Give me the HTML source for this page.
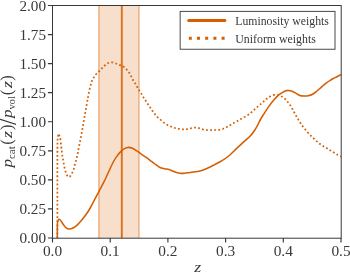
<!DOCTYPE html><html><head><meta charset="utf-8"><title>plot</title><style>html,body{margin:0;padding:0;background:#fff}svg{display:block}text{font-family:"Liberation Serif",serif;fill:#383838}</style></head><body>
<svg width="350" height="273" viewBox="0 0 350 273">
<rect width="350" height="273" fill="#fff"/>
<rect x="98.66" y="5.50" width="40.39" height="232.50" fill="#d55e00" fill-opacity="0.2"/>
<path d="M98.90 5.50V238.00M139.00 5.50V238.00" stroke="#d55e00" stroke-opacity="0.36" stroke-width="1.7" fill="none"/>
<path d="M121.80 5.50V238.00" stroke="#d55e00" stroke-width="1.9" stroke-opacity="0.85" fill="none"/>
<clipPath id="c"><rect x="52.50" y="5.50" width="288.50" height="232.50"/></clipPath>
<g clip-path="url(#c)" fill="none" stroke="#d55e00" stroke-width="1.55" stroke-linejoin="round">
<path d="M57.30 238.00C57.31 236.50 57.32 231.58 57.35 229.00C57.38 226.42 57.36 224.00 57.50 222.50C57.64 221.00 57.93 220.53 58.20 220.00C58.47 219.47 58.77 219.30 59.10 219.30C59.43 219.30 59.80 219.60 60.20 220.00C60.60 220.40 60.87 220.78 61.50 221.70C62.13 222.62 63.17 224.42 64.00 225.50C64.83 226.58 65.63 227.62 66.50 228.20C67.37 228.78 68.20 228.98 69.20 229.00C70.20 229.02 71.13 229.00 72.50 228.30C73.87 227.60 75.82 226.22 77.40 224.80C78.98 223.38 80.47 221.63 82.00 219.80C83.53 217.97 85.18 215.85 86.60 213.80C88.02 211.75 89.28 209.63 90.50 207.50C91.72 205.37 92.80 203.12 93.90 201.00C95.00 198.88 96.18 196.53 97.10 194.80C98.02 193.07 98.20 192.87 99.40 190.60C100.60 188.33 102.70 184.47 104.30 181.20C105.90 177.93 107.42 174.37 109.00 171.00C110.58 167.63 112.38 163.58 113.80 161.00C115.22 158.42 116.30 157.10 117.50 155.50C118.70 153.90 119.83 152.55 121.00 151.40C122.17 150.25 123.32 149.27 124.50 148.60C125.68 147.93 126.77 147.45 128.10 147.40C129.43 147.35 130.92 147.63 132.50 148.30C134.08 148.97 135.77 150.18 137.60 151.40C139.43 152.62 141.52 154.20 143.50 155.60C145.48 157.00 147.62 158.40 149.50 159.80C151.38 161.20 153.13 162.77 154.80 164.00C156.47 165.23 157.92 166.42 159.50 167.20C161.08 167.98 162.72 168.32 164.30 168.70C165.88 169.08 167.42 169.02 169.00 169.50C170.58 169.98 172.00 170.97 173.80 171.60C175.60 172.23 177.82 173.05 179.80 173.30C181.78 173.55 183.52 173.30 185.70 173.10C187.88 172.90 190.52 172.47 192.90 172.10C195.28 171.73 197.60 171.55 200.00 170.90C202.40 170.25 204.85 169.25 207.30 168.20C209.75 167.15 212.25 165.85 214.70 164.60C217.15 163.35 219.57 162.22 222.00 160.70C224.43 159.18 226.85 157.55 229.30 155.50C231.75 153.45 234.25 150.72 236.70 148.40C239.15 146.08 242.37 143.10 244.00 141.60C245.63 140.10 245.50 140.30 246.50 139.40C247.50 138.50 248.87 137.38 250.00 136.20C251.13 135.02 252.13 133.93 253.30 132.30C254.47 130.67 255.77 128.62 257.00 126.40C258.23 124.18 259.48 121.18 260.70 119.00C261.92 116.82 262.97 115.37 264.30 113.30C265.63 111.23 267.12 108.80 268.70 106.60C270.28 104.40 272.22 101.97 273.80 100.10C275.38 98.23 276.73 96.70 278.20 95.40C279.67 94.10 281.30 93.07 282.60 92.30C283.90 91.53 285.03 91.12 286.00 90.80C286.97 90.48 287.50 90.37 288.40 90.40C289.30 90.43 290.17 90.55 291.40 91.00C292.63 91.45 294.40 92.37 295.80 93.10C297.20 93.83 298.47 94.92 299.80 95.40C301.13 95.88 302.40 95.93 303.80 96.00C305.20 96.07 306.73 96.08 308.20 95.80C309.67 95.52 311.13 95.10 312.60 94.30C314.07 93.50 315.53 92.20 317.00 91.00C318.47 89.80 319.93 88.37 321.40 87.10C322.87 85.83 324.33 84.53 325.80 83.40C327.27 82.27 328.73 81.22 330.20 80.30C331.67 79.38 332.80 78.85 334.60 77.90C336.40 76.95 339.93 75.15 341.00 74.60" stroke-linecap="round"/>
<path d="M57.40 238.00C57.40 231.67 57.40 213.00 57.40 200.00C57.40 187.00 57.38 169.67 57.40 160.00C57.42 150.33 57.42 145.92 57.50 142.00C57.58 138.08 57.70 137.70 57.90 136.50C58.10 135.30 58.42 134.88 58.70 134.80" stroke-width="1.75" stroke-dasharray="1.75 2.32" stroke-dashoffset="0.25"/>
<path d="M58.70 134.80C58.98 134.72 59.30 135.17 59.60 136.00C59.90 136.83 60.23 138.05 60.50 139.80C60.77 141.55 60.98 144.58 61.20 146.50C61.42 148.42 61.60 149.75 61.80 151.30C62.00 152.85 62.18 154.42 62.40 155.80C62.62 157.18 62.88 158.32 63.10 159.60C63.32 160.88 63.47 162.15 63.70 163.50C63.93 164.85 64.18 166.32 64.50 167.70C64.82 169.08 65.17 170.52 65.60 171.80C66.03 173.08 66.60 174.60 67.10 175.40C67.60 176.20 68.10 176.45 68.60 176.60" stroke-width="1.75" stroke-dasharray="1.75 2.32" stroke-dashoffset="3.97"/>
<path d="M68.60 176.60C69.10 176.75 69.52 176.88 70.10 176.30C70.68 175.72 71.50 174.28 72.10 173.10C72.70 171.92 73.27 170.53 73.70 169.20C74.13 167.87 74.33 166.43 74.70 165.10C75.07 163.77 75.53 162.53 75.90 161.20C76.27 159.87 76.58 158.43 76.90 157.10C77.22 155.77 77.53 154.55 77.80 153.20C78.07 151.85 78.12 150.98 78.50 149.00C78.88 147.02 79.57 143.97 80.10 141.30C80.63 138.63 81.18 135.80 81.70 133.00C82.22 130.20 82.73 127.17 83.20 124.50C83.67 121.83 84.05 119.57 84.50 117.00C84.95 114.43 85.42 111.82 85.90 109.10C86.38 106.38 87.03 102.78 87.40 100.70C87.77 98.62 87.78 98.30 88.10 96.60" stroke-width="1.75" stroke-dasharray="1.75 2.32" stroke-dashoffset="3.14"/>
<path d="M88.10 96.60C88.42 94.90 88.85 92.48 89.30 90.50C89.75 88.52 90.37 86.27 90.80 84.70C91.23 83.13 91.42 82.28 91.90 81.10C92.38 79.92 93.00 78.75 93.70 77.60C94.40 76.45 95.18 75.27 96.10 74.20C97.02 73.13 98.23 72.17 99.20 71.20C100.17 70.23 100.95 69.35 101.90 68.40C102.85 67.45 103.83 66.40 104.90 65.50C105.97 64.60 107.08 63.52 108.30 63.00C109.52 62.48 110.93 62.32 112.20 62.40" stroke-width="1.75" stroke-dasharray="1.75 2.32" stroke-dashoffset="1.08"/>
<path d="M112.20 62.40C113.47 62.48 114.62 63.05 115.90 63.50C117.18 63.95 118.62 64.57 119.90 65.10C121.18 65.63 122.50 66.00 123.60 66.70C124.70 67.40 125.58 68.32 126.50 69.30C127.42 70.28 128.33 71.45 129.10 72.60C129.87 73.75 130.45 74.97 131.10 76.20C131.75 77.43 132.33 78.82 133.00 80.00C133.67 81.18 134.42 82.17 135.10 83.30C135.78 84.43 136.42 85.62 137.10 86.80C137.78 87.98 138.48 89.22 139.20 90.40C139.92 91.58 140.67 92.70 141.40 93.90C142.13 95.10 142.87 96.43 143.60 97.60C144.33 98.77 145.07 99.78 145.80 100.90C146.53 102.02 147.27 103.18 148.00 104.30C148.73 105.42 149.43 106.47 150.20 107.60C150.97 108.73 151.78 109.97 152.60 111.10C153.42 112.23 154.22 113.35 155.10 114.40C155.98 115.45 156.92 116.45 157.90 117.40C158.88 118.35 159.95 119.18 161.00 120.10" stroke-width="1.75" stroke-dasharray="1.75 2.32" stroke-dashoffset="0.71"/>
<path d="M161.00 120.10C162.05 121.02 163.10 122.07 164.20 122.90C165.30 123.73 166.42 124.47 167.60 125.10C168.78 125.73 170.08 126.22 171.30 126.70C172.52 127.18 173.67 127.65 174.90 128.00C176.13 128.35 177.38 128.57 178.70 128.80C180.02 129.03 181.45 129.33 182.80 129.40C184.15 129.47 185.47 129.38 186.80 129.20C188.13 129.02 189.45 128.55 190.80 128.30C192.15 128.05 193.55 127.72 194.90 127.70C196.25 127.68 197.60 127.93 198.90 128.20C200.20 128.47 201.33 129.00 202.70 129.30C204.07 129.60 205.70 129.88 207.10 130.00" stroke-width="1.75" stroke-dasharray="1.75 2.32" stroke-dashoffset="1.00"/>
<path d="M207.10 130.00C208.50 130.12 209.75 130.00 211.10 130.00C212.45 130.00 213.85 130.03 215.20 130.00C216.55 129.97 217.87 130.02 219.20 129.80C220.53 129.58 221.92 129.17 223.20 128.70C224.48 128.23 225.70 127.62 226.90 127.00C228.10 126.38 229.27 125.68 230.40 125.00C231.53 124.32 232.52 123.58 233.70 122.90C234.88 122.22 236.28 121.57 237.50 120.90C238.72 120.23 239.82 119.57 241.00 118.90C242.18 118.23 243.42 117.57 244.60 116.90" stroke-width="1.75" stroke-dasharray="1.75 2.32" stroke-dashoffset="0.93"/>
<path d="M244.60 116.90C245.78 116.23 246.97 115.67 248.10 114.90C249.23 114.13 250.35 113.17 251.40 112.30C252.45 111.43 253.38 110.62 254.40 109.70C255.42 108.78 256.47 107.73 257.50 106.80C258.53 105.87 259.57 105.00 260.60 104.10C261.63 103.20 262.67 102.28 263.70 101.40C264.73 100.52 265.73 99.63 266.80 98.80C267.87 97.97 268.92 97.07 270.10 96.40C271.28 95.73 272.58 95.03 273.90 94.80" stroke-width="1.75" stroke-dasharray="1.75 2.32" stroke-dashoffset="0.73"/>
<path d="M273.90 94.80C275.22 94.57 276.68 94.70 278.00 95.00C279.32 95.30 280.62 95.93 281.80 96.60C282.98 97.27 284.12 98.10 285.10 99.00C286.08 99.90 286.85 100.95 287.70 102.00C288.55 103.05 289.42 104.13 290.20 105.30C290.98 106.47 291.72 107.80 292.40 109.00C293.08 110.20 293.65 111.32 294.30 112.50C294.95 113.68 295.63 114.92 296.30 116.10C296.97 117.28 297.62 118.47 298.30 119.60C298.98 120.73 299.70 121.83 300.40 122.90C301.10 123.97 301.68 124.90 302.50 126.00C303.32 127.10 304.40 128.40 305.30 129.50C306.20 130.60 307.00 131.58 307.90 132.60" stroke-width="1.75" stroke-dasharray="1.75 2.32" stroke-dashoffset="0.72"/>
<path d="M307.90 132.60C308.80 133.62 309.73 134.62 310.70 135.60C311.67 136.58 312.70 137.55 313.70 138.50C314.70 139.45 315.65 140.38 316.70 141.30C317.75 142.22 318.88 143.18 320.00 144.00C321.12 144.82 322.25 145.50 323.40 146.20C324.55 146.90 325.75 147.50 326.90 148.20C328.05 148.90 329.13 149.67 330.30 150.40C331.47 151.13 332.70 151.87 333.90 152.60C335.10 153.33 336.32 154.13 337.50 154.80C338.68 155.47 340.42 156.30 341.00 156.60" stroke-width="1.75" stroke-dasharray="1.75 2.32" stroke-dashoffset="0.58"/>
</g>
<rect x="52.50" y="5.50" width="288.70" height="232.70" fill="none" stroke="#383838" stroke-width="1.0"/>
<path d="M52.50 238.00v4.6M110.20 238.00v4.6M167.90 238.00v4.6M225.60 238.00v4.6M283.30 238.00v4.6M341.00 238.00v4.6M52.50 238.00h-4.6M52.50 208.94h-4.6M52.50 179.88h-4.6M52.50 150.81h-4.6M52.50 121.75h-4.6M52.50 92.69h-4.6M52.50 63.62h-4.6M52.50 34.56h-4.6M52.50 5.50h-4.6" stroke="#383838" stroke-width="1.15" fill="none"/>
<text x="52.50" y="256.0" font-size="15.5" text-anchor="middle" textLength="19.2" lengthAdjust="spacingAndGlyphs">0.0</text>
<text x="110.20" y="256.0" font-size="15.5" text-anchor="middle" textLength="19.2" lengthAdjust="spacingAndGlyphs">0.1</text>
<text x="167.90" y="256.0" font-size="15.5" text-anchor="middle" textLength="19.2" lengthAdjust="spacingAndGlyphs">0.2</text>
<text x="225.60" y="256.0" font-size="15.5" text-anchor="middle" textLength="19.2" lengthAdjust="spacingAndGlyphs">0.3</text>
<text x="283.30" y="256.0" font-size="15.5" text-anchor="middle" textLength="19.2" lengthAdjust="spacingAndGlyphs">0.4</text>
<text x="341.00" y="256.0" font-size="15.5" text-anchor="middle" textLength="19.2" lengthAdjust="spacingAndGlyphs">0.5</text>
<text x="46" y="243.30" font-size="15.5" text-anchor="end" textLength="26.6" lengthAdjust="spacingAndGlyphs">0.00</text>
<text x="46" y="214.24" font-size="15.5" text-anchor="end" textLength="26.6" lengthAdjust="spacingAndGlyphs">0.25</text>
<text x="46" y="185.18" font-size="15.5" text-anchor="end" textLength="26.6" lengthAdjust="spacingAndGlyphs">0.50</text>
<text x="46" y="156.11" font-size="15.5" text-anchor="end" textLength="26.6" lengthAdjust="spacingAndGlyphs">0.75</text>
<text x="46" y="127.05" font-size="15.5" text-anchor="end" textLength="26.6" lengthAdjust="spacingAndGlyphs">1.00</text>
<text x="46" y="97.99" font-size="15.5" text-anchor="end" textLength="26.6" lengthAdjust="spacingAndGlyphs">1.25</text>
<text x="46" y="68.92" font-size="15.5" text-anchor="end" textLength="26.6" lengthAdjust="spacingAndGlyphs">1.50</text>
<text x="46" y="39.86" font-size="15.5" text-anchor="end" textLength="26.6" lengthAdjust="spacingAndGlyphs">1.75</text>
<text x="46" y="10.80" font-size="15.5" text-anchor="end" textLength="26.6" lengthAdjust="spacingAndGlyphs">2.00</text>
<text transform="translate(194.2 272.3) scale(1.2 1)" font-size="15" font-style="italic">z</text>
<g transform="rotate(-90)">
<text transform="translate(-167.38 12.30) scale(1.150 1)" font-size="15" font-style="italic">p</text>
<text transform="translate(-158.91 14.70) scale(1.100 1)" font-size="9.8">cat</text>
<text transform="translate(-144.63 12.30) scale(1.000 1)" font-size="16.5">(</text>
<text transform="translate(-137.90 12.30) scale(1.200 1)" font-size="15" font-style="italic">z</text>
<text transform="translate(-130.03 12.30) scale(1.000 1)" font-size="16.5">)</text>
<text transform="translate(-117.98 12.30) scale(1.150 1)" font-size="15" font-style="italic">p</text>
<text transform="translate(-109.40 14.70) scale(1.060 1)" font-size="9.8">vol</text>
<text transform="translate(-95.23 12.30) scale(1.000 1)" font-size="16.5">(</text>
<text transform="translate(-88.00 12.30) scale(1.200 1)" font-size="15" font-style="italic">z</text>
<text transform="translate(-80.63 12.30) scale(1.000 1)" font-size="16.5">)</text>
<text transform="translate(-124.90 16.30) scale(0.950 1)" font-size="26.5">/</text>
</g>
<rect x="180.15" y="11.4" width="154.85" height="37.85" fill="#fff" stroke="#484848" stroke-width="1"/>
<path d="M188.7 20.5H224.9" stroke="#d55e00" stroke-width="3" stroke-linecap="round" fill="none"/>
<path d="M188.8 38.3H226" stroke="#d55e00" stroke-width="3" stroke-dasharray="3 5.2" fill="none"/>
<text x="235.3" y="25.3" font-size="11.7" textLength="93.6" lengthAdjust="spacingAndGlyphs">Luminosity weights</text>
<text x="235.3" y="43" font-size="11.7" textLength="80.5" lengthAdjust="spacingAndGlyphs">Uniform weights</text>
</svg></body></html>
